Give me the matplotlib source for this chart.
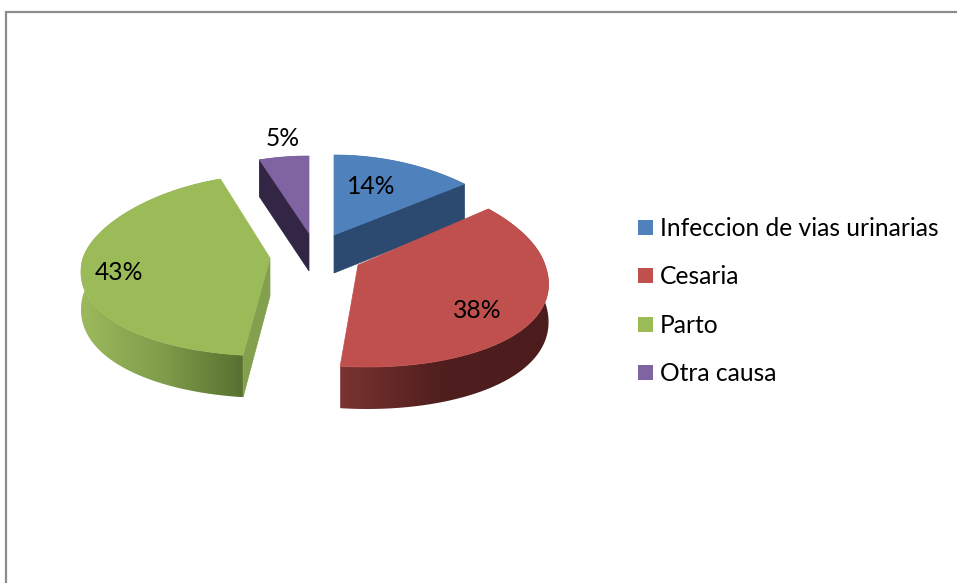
import numpy as np
import matplotlib
matplotlib.use("Agg")
import matplotlib.pyplot as plt
from matplotlib.patches import Polygon, Rectangle
from matplotlib.colors import LinearSegmentedColormap

categories = ["Infeccion de vias urinarias", "Cesaria", "Parto", "Otra causa"]
values = [14, 38, 43, 5]

colors = ["#4f81bd", "#c0504d", "#9bbb59", "#8064a2"]
# layout: apex of every exploded slice, rim radii and skew, in pixels
apex_x = [334, 358, 270, 309]
apex_y = [235, 265, 258, 233]
ry_back = [80, 88, 83, 77]
ry_front = [102, 102, 98, 102]
skew = [0, 0.09, 0, 0]
# wall shading, left to right along the curved wall
wall_ramp = [["#2c4a6f", "#2c4a6f"],
             ["#7a3330", "#4f1e1e", "#4c1c1c"],
             ["#9cb95c", "#7f9d4a", "#587030"],
             ["#322644", "#322644"]]
cut_face = ["#2c4a6f", None, "#82a04e", "#322644"]   # visible cut wall, by slice
cut_end = [-1, None, 0, 0]                           # which end of the rim it joins
label_xy = [(371.5, 194), (477.5, 318), (118.5, 280), (282.5, 146)]
legend_y = [227.5, 275.5, 324.5, 372.5]
FONT = "Lato"
FS = 17.75

fig = plt.figure(figsize=(9.57, 5.83), dpi=100)
ax = fig.add_axes([0, 0, 1, 1])
ax.axis("off")

# frame (only the top and left edges fall inside the picture)
ax.plot([957, 6, 6], [12, 12, 583], color="#8c8c8c", lw=1.6, solid_joinstyle="miter", zorder=1)


def rim(t, i):
    s, c = np.sin(t), np.cos(t)
    rx = 187 - 28 * c
    ry = np.where(c > 0, ry_back[i], ry_front[i])
    dy = -ry * c
    return apex_x[i] + rx * s + skew[i] * np.maximum(dy, 0), apex_y[i] + dy


def depth(t):
    return 37 + 5 * np.maximum(0, -np.cos(t))


edges = np.radians(np.concatenate([[0], np.cumsum(values)]) * 3.6)
order = [3, 0, 2, 1]

for n, i in enumerate(order):
    t = np.linspace(edges[i], edges[i + 1], 240)
    x, y = rim(t, i)
    d = depth(t)
    z = 3 + n * 3
    # curved wall: a left-to-right gradient clipped to the wall outline
    outline = Polygon(np.column_stack([np.r_[x, x[::-1]], np.r_[y, (y + d)[::-1]]]),
                      closed=True, fc="none", ec="none", transform=ax.transData)
    ax.add_patch(outline)
    cmap = LinearSegmentedColormap.from_list(f"w{i}", wall_ramp[i])
    im = ax.imshow(np.linspace(0, 1, 256)[None, :], cmap=cmap, aspect="auto",
                   extent=(x.min(), x.max(), (y + d).max(), y.min()),
                   zorder=z, interpolation="bilinear")
    im.set_clip_path(outline)
    # straight cut wall
    if cut_face[i]:
        k = cut_end[i]
        ax.add_patch(Polygon([(apex_x[i], apex_y[i]), (x[k], y[k]),
                              (x[k], y[k] + d[k]), (apex_x[i], apex_y[i] + 38)],
                             closed=True, fc=cut_face[i], ec=cut_face[i], lw=0.5, zorder=z + 1))
    # top face
    ax.add_patch(Polygon(np.column_stack([np.r_[apex_x[i], x], np.r_[apex_y[i], y]]),
                         closed=True, fc=colors[i], ec=colors[i], lw=0.5, zorder=z + 2))

for v, (lx, ly) in zip(values, label_xy):
    ax.text(lx, ly, f"{v}%", ha="center", va="baseline", fontsize=FS, family=FONT, color="black", zorder=30)

for c, name, ly in zip(colors, categories, legend_y):
    ax.add_patch(Rectangle((638, ly - 7.5), 15, 15, fc=c, ec="none", zorder=30))
    ax.text(660, ly + 8.5, name, ha="left", va="baseline", fontsize=FS, family=FONT, color="black", zorder=30)

ax.set_xlim(0, 957)
ax.set_ylim(583, 0)
fig.savefig("out.png", dpi=100)
